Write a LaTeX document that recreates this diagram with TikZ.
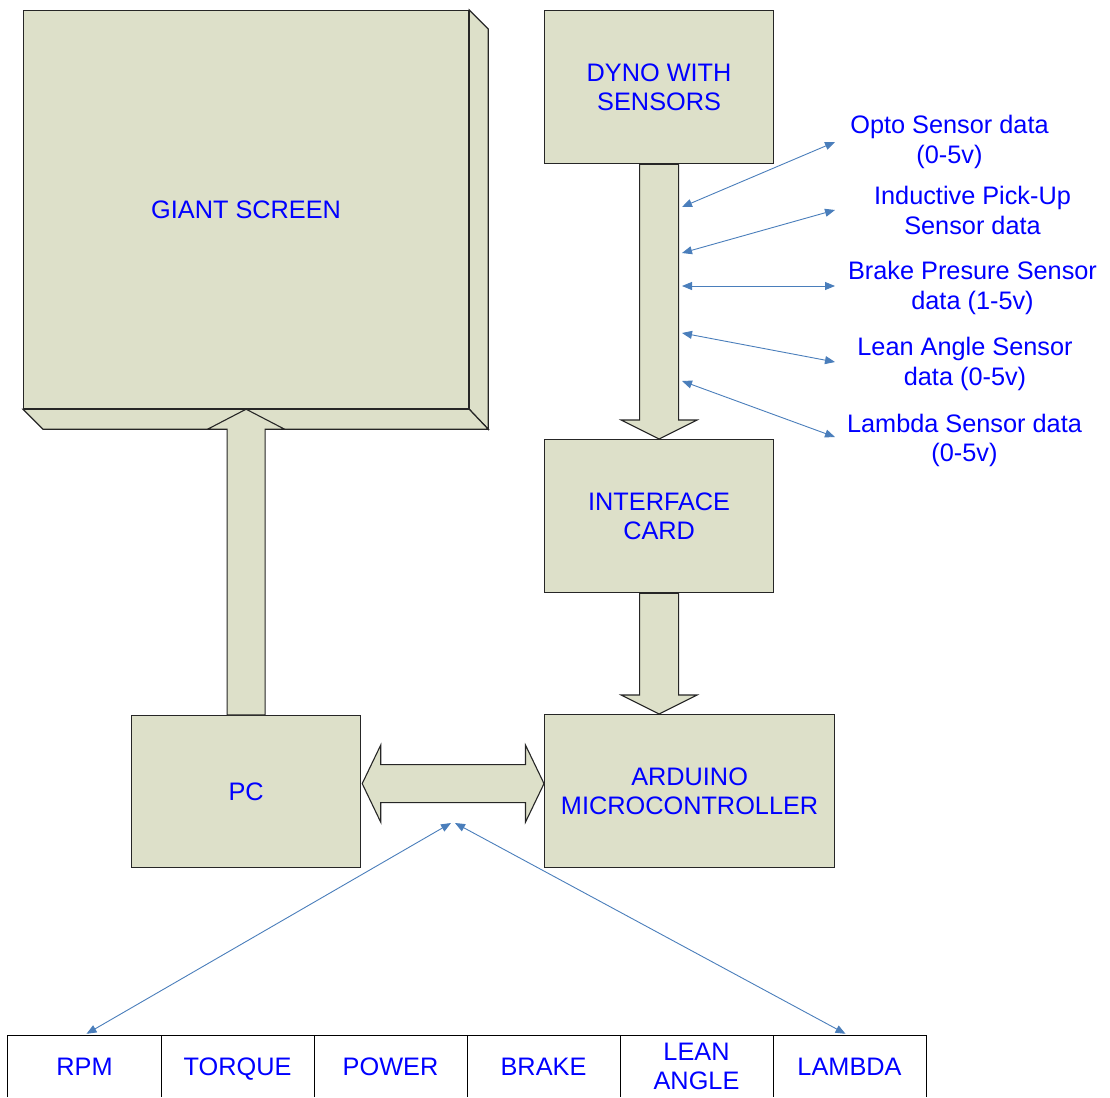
\documentclass[tikz,border=0pt]{standalone}
\usepackage{fontspec}
\setmainfont{Liberation Sans}
\usetikzlibrary{calc,arrows.meta}
\definecolor{boxfill}{RGB}{221,224,201}
\definecolor{labelblue}{RGB}{0,0,255}
\definecolor{linkblue}{RGB}{74,126,187}
\begin{document}
\begin{tikzpicture}[x=1pt,y=-1pt,
  labeltext/.style={text=labelblue, align=center, font=\fontsize{25.3}{29.5}\selectfont},
  box/.style={labeltext, draw=black!85, line width=1.2pt, fill=boxfill,
    rectangle, inner sep=0pt, anchor=north west},
  face/.style={draw=black!85, line width=1.2pt, fill=boxfill, line join=miter},
  blockarrow/.style={draw=black!85, line width=1.1pt, fill=boxfill, line join=miter},
  signal/.style={draw=linkblue, line width=0.9pt,
    {Triangle[length=10pt,width=8pt]}-{Triangle[length=10pt,width=8pt]}},
  cell/.style={labeltext, rectangle, inner sep=0pt, minimum width=153pt, minimum height=61pt},
  grid/.style={draw=black, line width=1.1pt}]

\useasboundingbox (0,0) rectangle (1110,1097);

% main blocks
\node[box, minimum width=445pt, minimum height=398pt] (screen) at (23,10) {GIANT SCREEN};
\node[box, minimum width=229pt, minimum height=152pt] (pc) at (131,715) {PC};
\node[box, minimum width=229pt, minimum height=153pt] (dyno) at (544,10) {DYNO WITH\\SENSORS};
\node[box, minimum width=229pt, minimum height=153pt] (iface) at (544,439) {INTERFACE\\CARD};
\node[box, minimum width=290pt, minimum height=153pt] (arduino) at (544,714) {ARDUINO\\MICROCONTROLLER};

% depth faces of the screen
\draw[face] (screen.north east) -- ++(19,19) -- ($(screen.south east)+(19,20)$)
  -- (screen.south east) -- cycle;
\draw[face] (screen.south west) -- (screen.south east) -- ++(19,20)
  -- ($(screen.south west)+(20,20)$) -- cycle;

% PC -> screen
\draw[blockarrow] ($(pc.north)+(-19,0)$) -- ($(screen.south)+(-19,20)$)
  -- ($(screen.south)+(-38.5,20)$) -- (screen.south) -- ($(screen.south)+(38.5,20)$)
  -- ($(screen.south)+(19,20)$) -- ($(pc.north)+(19,0)$) -- cycle;

% dyno -> interface card
\draw[blockarrow] ($(dyno.south)+(-19.5,0)$) -- ($(iface.north)+(-19.5,-19)$)
  -- ($(iface.north)+(-38,-19)$) -- (iface.north) -- ($(iface.north)+(38,-19)$)
  -- ($(iface.north)+(19.5,-19)$) -- ($(dyno.south)+(19.5,0)$) -- cycle;

% interface card -> arduino
\coordinate (atip) at (iface.south |- arduino.north);
\draw[blockarrow] ($(iface.south)+(-19.5,0)$) -- ($(atip)+(-19.5,-19)$)
  -- ($(atip)+(-38,-19)$) -- (atip) -- ($(atip)+(38,-19)$)
  -- ($(atip)+(19.5,-19)$) -- ($(iface.south)+(19.5,0)$) -- cycle;

% PC <-> arduino
\coordinate (ltip) at ($(pc.east)+(1,-8)$);
\coordinate (rtip) at (arduino.west |- ltip);
\draw[blockarrow] (ltip) -- ($(ltip)+(18.5,-38.5)$) -- ($(ltip)+(18.5,-19)$)
  -- ($(rtip)+(-18.5,-19)$) -- ($(rtip)+(-18.5,-38.5)$) -- (rtip)
  -- ($(rtip)+(-18.5,38.5)$) -- ($(rtip)+(-18.5,19)$) -- ($(ltip)+(18.5,19)$)
  -- ($(ltip)+(18.5,38.5)$) -- cycle;

% sensor labels
\node[labeltext] (opto) at (949.5,142) {Opto Sensor data\\(0-5v)};
\node[labeltext] (induct) at (972.5,210.5) {Inductive Pick-Up\\Sensor data};
\node[labeltext] (brakesens) at (972.5,288) {Brake Presure Sensor\\data (1-5v)};
\node[labeltext] (leansens) at (965,364) {Lean Angle Sensor\\data (0-5v)};
\node[labeltext] (lambdasens) at (964.5,440.5) {Lambda Sensor data\\(0-5v)};

% sensor signal lines
\coordinate (s1) at (682,207); \coordinate (e1) at (835,142);
\coordinate (s2) at (682,253); \coordinate (e2) at (835,210);
\coordinate (s3) at (682,286); \coordinate (e3) at (835,286);
\coordinate (s4) at (682,333); \coordinate (e4) at (835,362);
\coordinate (s5) at (682,381); \coordinate (e5) at (835,437);
\foreach \i in {1,...,5} \draw[signal] (s\i) -- (e\i);

% bottom readout table
\node[cell] (rpm) at (84.5,1066.5) {RPM};
\node[cell, text depth=0pt] (torque) at (237.5,1066.5) {TORQUE};
\node[cell] (power) at (390.5,1066.5) {POWER};
\node[cell] (brake) at (543.5,1066.5) {BRAKE};
\node[cell] (lean) at (696.5,1066.5) {LEAN\\ANGLE};
\node[cell] (lambda) at (849.5,1066.5) {LAMBDA};
\draw[grid] (rpm.south west) -- (rpm.north west) -- (lambda.north east) -- (lambda.south east);
\foreach \c in {rpm,torque,power,brake,lean}
  \draw[grid] (\c.north east) -- (\c.south east);

% readouts fed from the PC link
\coordinate (hubl) at (451,823);
\coordinate (hubr) at (455,823);
\draw[signal] (hubl) -- ($(rpm.north)+(2,-2)$);
\draw[signal] (hubr) -- ($(lambda.north)+(-4,-2)$);
\end{tikzpicture}
\end{document}
